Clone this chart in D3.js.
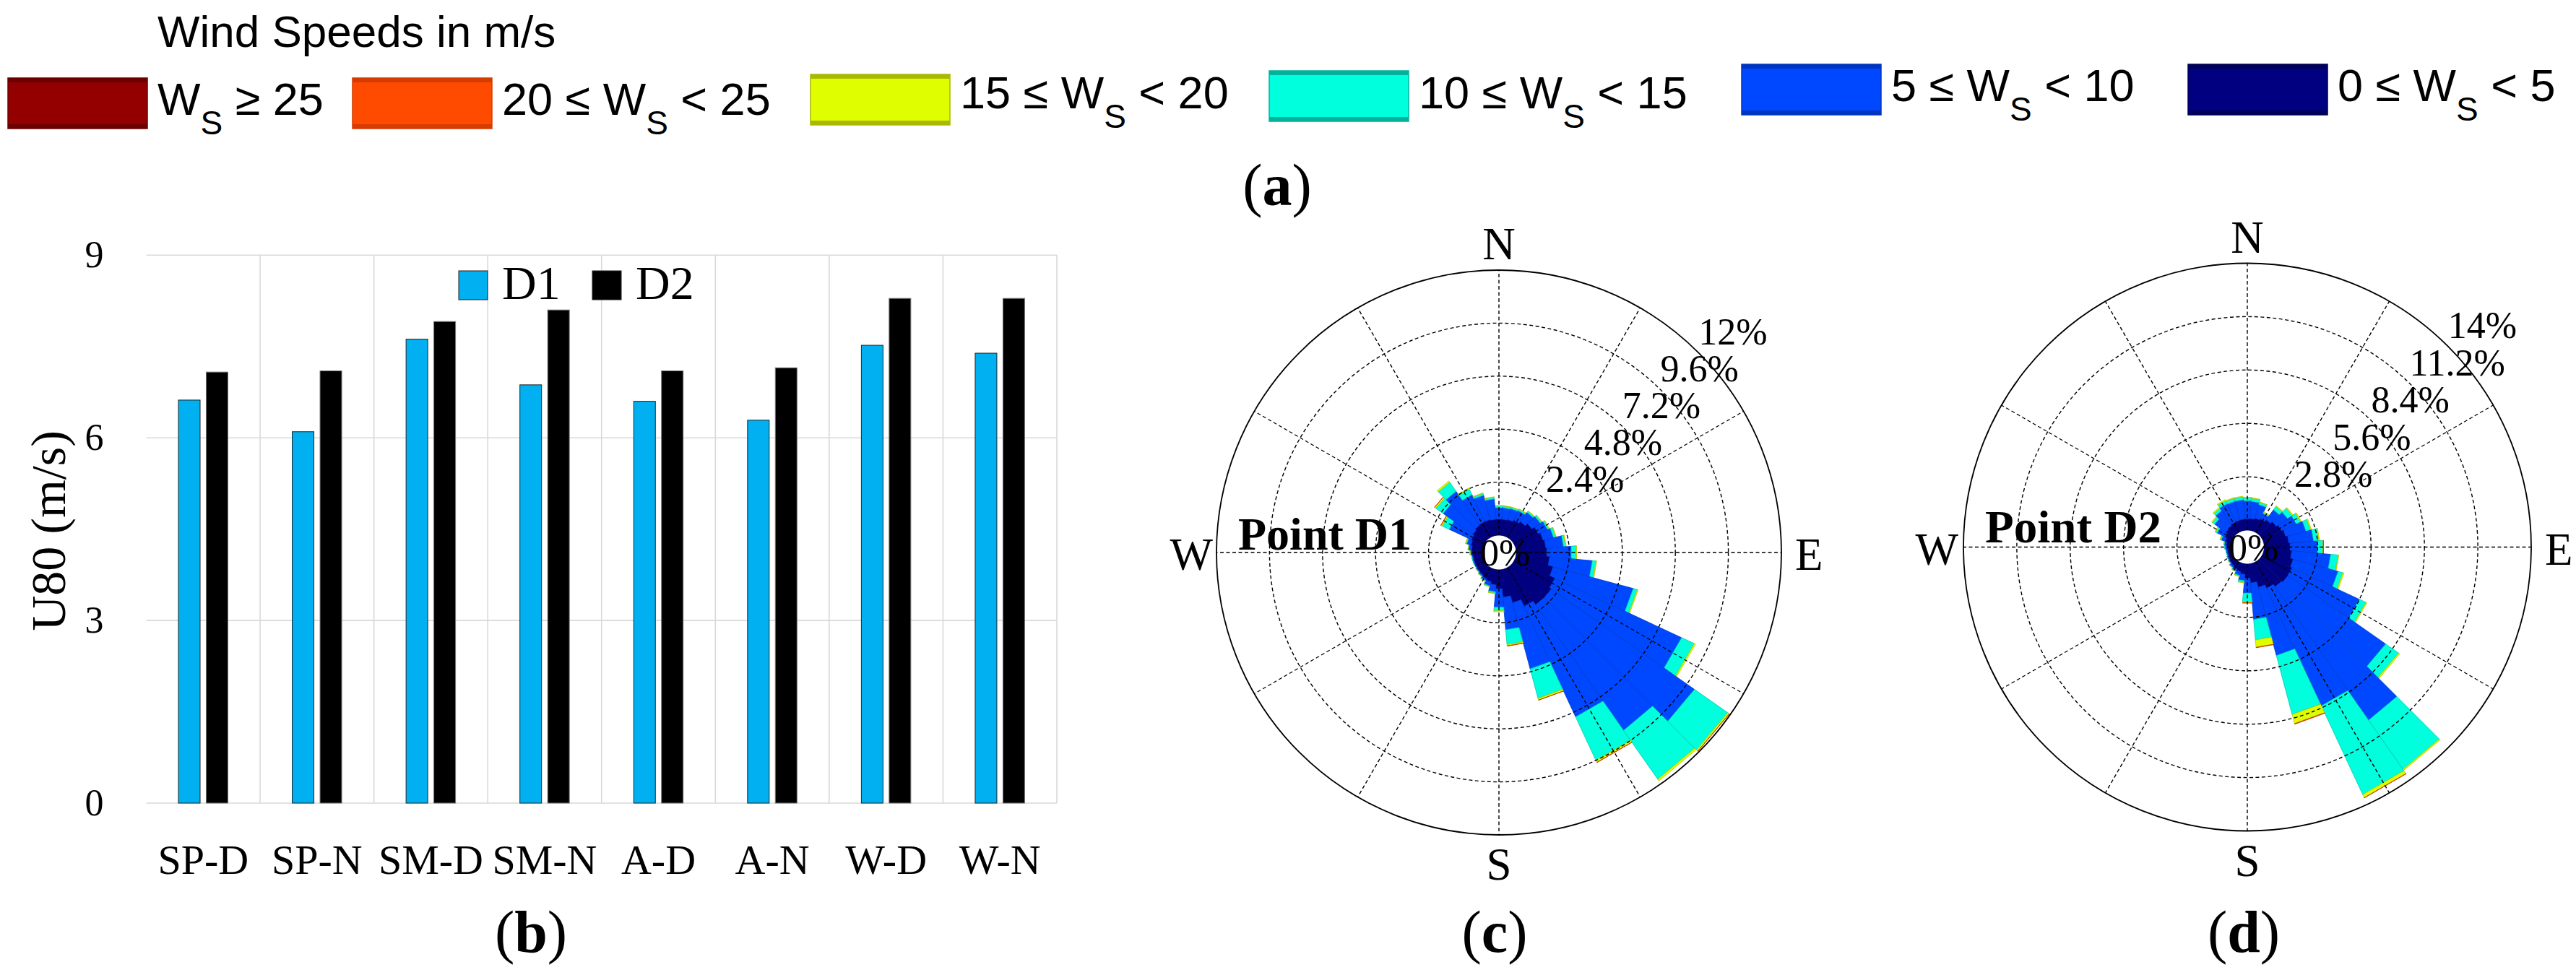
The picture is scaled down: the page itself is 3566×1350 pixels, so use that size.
<!DOCTYPE html>
<html lang="en">
<head>
<meta charset="UTF-8">
<title>Wind speeds at points D1 and D2</title>
<script src="https://cdn.jsdelivr.net/npm/d3@7"></script>
<style>
  body { margin: 0; background: #fff; }
  svg text { font-family: "Liberation Serif", "Times New Roman", serif; fill: #000; }
  svg text.sans { font-family: "Liberation Sans", Arial, sans-serif; }
</style>
</head>
<body>
<script>
// ---- data ----
// (b) mean wind speed at 80 m, by season and day/night
var seasons = ["SP-D", "SP-N", "SM-D", "SM-N", "A-D", "A-N", "W-D", "W-N"];
var u80_D1 = [6.62, 6.10, 7.62, 6.87, 6.60, 6.29, 7.52, 7.39];
var u80_D2 = [7.08, 7.10, 7.91, 8.10, 7.10, 7.15, 8.29, 8.29];
var u80Ticks = [0, 3, 6, 9];

// wind speed classes (m/s), legend order
var classLo = [25, 20, 15, 10, 5, 0];
var classHi = [null, 25, 20, 15, 10, 5];
var classColor = ["#940000", "#ff4b00", "#dfff00", "#00ffdd", "#0048ff", "#000080"];
var classBand = ["#6a0000", "#d63b00", "#a9b800", "#00b39c", "#0034c0", "#000058"];

// wind rose sectors: direction (deg from N) and frequency (%) per class
var directions = d3.range(0, 360, 10);

// (c) Point D1
var d1_0to5   = [0.73,0.73,0.76,0.83,0.92,1.06,1.19,1.29,1.35,1.39,1.52,1.75,2.01,2.11,2.11,1.91,1.58,1.25,0.86,0.69,0.59,0.53,0.46,0.43,0.40,0.40,0.40,0.43,0.46,0.53,0.59,0.66,0.73,0.76,0.76,0.73];
var d1_5to10  = [0.52,0.52,0.51,0.47,0.51,0.46,0.46,0.49,0.80,1.11,1.94,3.76,6.33,7.91,6.94,5.52,3.09,1.48,0.84,0.31,0.19,0.09,0.07,0.05,0.05,0.05,0.05,0.08,0.14,0.19,1.11,1.64,1.87,1.34,1.14,0.92];
var d1_10to15 = [0.08,0.08,0.07,0.07,0.07,0.08,0.07,0.11,0.10,0.22,0.17,0.19,0.63,1.84,2.70,2.17,1.38,0.67,0.16,0.07,0.04,0.03,0.02,0.01,0.01,0.01,0.01,0.01,0.02,0.05,0.35,0.40,0.50,0.30,0.09,0.08];
var d1_15to20 = [0.02,0.02,0.01,0.02,0.02,0.02,0.03,0.02,0.03,0.02,0.03,0.04,0.06,0.08,0.09,0.10,0.08,0.06,0.05,0.02,0.01,0.01,0.01,0.01,0,0,0,0.01,0.01,0.02,0.06,0.07,0.07,0.04,0.02,0.02];
var d1_20to25 = [0,0,0,0,0,0,0,0,0,0,0,0,0,0.01,0,0.01,0.01,0.01,0,0,0,0,0,0,0,0,0,0,0,0,0.01,0.01,0,0,0,0];
var d1_25up   = [0,0,0,0,0,0,0,0,0,0,0,0,0,0,0,0,0,0,0,0,0,0,0,0,0,0,0,0,0,0,0,0,0,0,0,0];
var d1RingTicks = [2.4, 4.8, 7.2, 9.6, 12];

// (d) Point D2
var d2_0to5   = [0.60,0.62,0.68,0.75,0.85,0.98,1.10,1.20,1.30,1.36,1.45,1.60,1.70,1.72,1.65,1.50,1.30,1.00,0.75,0.55,0.45,0.38,0.32,0.27,0.22,0.18,0.17,0.18,0.22,0.30,0.40,0.48,0.52,0.57,0.58,0.59];
var d2_5to10  = [0.95,0.90,0.74,0.30,0.65,0.72,0.85,1.10,1.30,1.44,2.05,2.44,3.90,6.25,8.55,6.80,3.70,1.92,0.78,0.33,0.20,0.12,0.10,0.06,0.06,0.06,0.07,0.10,0.11,0.22,0.45,0.72,0.93,1.05,1.02,1.01];
var d2_10to15 = [0.15,0.16,0.13,0.07,0.22,0.30,0.25,0.25,0.28,0.28,0.40,0.26,0.38,0.83,3.15,5.13,3.20,1.08,0.45,0.10,0.05,0.03,0.02,0.01,0.01,0.01,0.01,0.02,0.02,0.06,0.10,0.15,0.15,0.18,0.16,0.15];
var d2_15to20 = [0.03,0.03,0.02,0.03,0.04,0.05,0.05,0.05,0.04,0.03,0.03,0.06,0.05,0.07,0.06,0.19,0.50,0.39,0.06,0.02,0.02,0.01,0.01,0.01,0,0,0,0,0.01,0.02,0.04,0.05,0.06,0.06,0.04,0.04];
var d2_20to25 = [0,0,0,0,0,0,0,0,0,0.01,0,0,0,0,0,0.01,0.03,0.02,0.02,0,0,0,0,0,0,0,0,0,0,0,0,0,0,0,0,0];
var d2_25up   = [0,0,0,0,0,0,0,0,0,0,0,0,0,0,0,0,0,0,0,0,0,0,0,0,0,0,0,0,0,0,0,0,0,0,0,0];
var d2RingTicks = [2.8, 5.6, 8.4, 11.2, 14];

// ---- svg ----
var W = 3566, H = 1350;
var svg = d3.select("body").append("svg")
  .attr("width", W)
  .attr("height", H);

svg.append("rect").attr("width", W).attr("height", H).attr("fill", "#fff");

// panel label like "(b)" with a bold letter
function panelLabel(x, y, letter) {
  var t = svg.append("text")
    .attr("x", x).attr("y", y)
    .attr("text-anchor", "middle")
    .style("font-size", "82px");
  t.append("tspan").text("(");
  t.append("tspan").style("font-weight", "bold").text(letter);
  t.append("tspan").text(")");
}

// ---- (a) legend ----
svg.append("text")
  .attr("class", "sans")
  .attr("x", 218).attr("y", 65)
  .style("font-size", "62px")
  .text("Wind Speeds in m/s");

var legendX = [11, 488, 1122, 1757, 2411, 3029];
var legendY = [108, 108, 103, 98, 89, 89];
var legendTextY = [159, 159, 150, 150, 140, 140];

classLo.forEach(function(lo, i) {
  var g = svg.append("g").attr("transform", "translate(" + legendX[i] + "," + legendY[i] + ")");
  g.append("rect").attr("width", 193).attr("height", 70)
    .attr("fill", classColor[i]).attr("stroke", classBand[i]).attr("stroke-width", 1.5);
  g.append("rect").attr("width", 193).attr("height", 6).attr("fill", classBand[i]);
  g.append("rect").attr("y", 64).attr("width", 193).attr("height", 6).attr("fill", classBand[i]);

  var t = svg.append("text")
    .attr("class", "sans")
    .attr("x", legendX[i] + 207).attr("y", legendTextY[i])
    .style("font-size", "63px");
  var hi = classHi[i];
  t.append("tspan").text(hi == null ? "W" : lo + " \u2264 W");
  t.append("tspan").attr("dy", 27).style("font-size", "46px").text("S");
  t.append("tspan").attr("dy", -27).text(hi == null ? " \u2265 " + lo : " < " + hi);
});

panelLabel(1768, 284, "a");

// ---- (b) bar chart ----
var plotL = 202.5, plotR = 1463, plotT = 353.3, plotB = 1112;

var x0 = d3.scaleBand().domain(seasons).range([plotL, plotR]);
var bw = x0.bandwidth();
var x1 = d3.scaleBand().domain(["D1", "D2"]).range([0.2825 * bw, 0.717 * bw]).paddingInner(0.22);
var y = d3.scaleLinear().domain([0, 9]).range([plotB, plotT]);

var bars = svg.append("g");

// grid
bars.selectAll("line.h")
  .data(u80Ticks)
  .enter().append("line")
  .attr("x1", plotL).attr("x2", plotR)
  .attr("y1", function(d) { return y(d); })
  .attr("y2", function(d) { return y(d); })
  .attr("stroke", "#d9d9d9").attr("stroke-width", 1.6);

bars.selectAll("line.v")
  .data(seasons)
  .enter().append("line")
  .attr("x1", function(d) { return x0(d) + bw; })
  .attr("x2", function(d) { return x0(d) + bw; })
  .attr("y1", y(9)).attr("y2", y(0))
  .attr("stroke", "#d9d9d9").attr("stroke-width", 1.6);

var barData = seasons.map(function(s, i) {
  return [{ s: s, k: "D1", v: u80_D1[i] }, { s: s, k: "D2", v: u80_D2[i] }];
});

bars.selectAll("g.cat")
  .data(barData)
  .enter().append("g")
  .attr("transform", function(d) { return "translate(" + x0(d[0].s) + ",0)"; })
  .selectAll("rect")
  .data(function(d) { return d; })
  .enter().append("rect")
  .attr("x", function(d) { return x1(d.k); })
  .attr("width", x1.bandwidth())
  .attr("y", function(d) { return y(d.v); })
  .attr("height", function(d) { return y(0) - y(d.v); })
  .attr("fill", function(d) { return d.k == "D1" ? "#00b0f0" : "#000"; })
  .attr("stroke", function(d) { return d.k == "D1" ? "#222" : "#777"; })
  .attr("stroke-width", 1);

var yAxis = d3.axisLeft(y).tickValues(u80Ticks).tickSize(0).tickPadding(59);
var ya = bars.append("g").attr("transform", "translate(" + plotL + ",0)").call(yAxis);
ya.select(".domain").remove();
ya.selectAll("text").style("font-size", "52px").attr("font-family", null);

var xAxis = d3.axisBottom(x0).tickSize(0).tickPadding(57);
var xa = bars.append("g").attr("transform", "translate(0," + plotB + ")").call(xAxis);
xa.select(".domain").remove();
xa.selectAll("text").style("font-size", "58px").attr("font-family", null);

bars.append("text")
  .attr("transform", "translate(90,735) rotate(-90)")
  .attr("text-anchor", "middle")
  .style("font-size", "68px")
  .text("U80 (m/s)");

// legend inside the plot
[["D1", "#00b0f0", 635, 695], ["D2", "#000", 820, 880]].forEach(function(l) {
  bars.append("rect").attr("x", l[2]).attr("y", 375).attr("width", 40).attr("height", 40)
    .attr("fill", l[1]).attr("stroke", "#222").attr("stroke-width", 1);
  bars.append("text").attr("x", l[3]).attr("y", 414).style("font-size", "66px").text(l[0]);
});

panelLabel(735, 1318, "b");

// ---- (c), (d) wind roses ----
function drawRose(cx, cy, r0, R, ticks, classes, name, wGap, wDy, nameLen) {
  var g = svg.append("g");
  var maxV = ticks[ticks.length - 1];
  var r = d3.scaleLinear().domain([0, maxV]).range([r0, R]);
  var pt = function(rad, deg) {
    var a = deg * Math.PI / 180;
    return [cx + rad * Math.sin(a), cy - rad * Math.cos(a)];
  };
  // class order from calm to strong
  var order = [5, 4, 3, 2, 1, 0];
  var line = d3.line().curve(d3.curveLinearClosed);

  directions.forEach(function(dir, i) {
    var cum = 0;
    order.forEach(function(ci, k) {
      var v = classes[k][i];
      if (!v) return;
      var a0 = dir - 5, a1 = dir + 5;
      var rIn = r(cum), rOut = r(cum + v);
      cum += v;
      g.append("path")
        .attr("d", line([pt(rIn, a0), pt(rOut, a0), pt(rOut, a1), pt(rIn, a1)]))
        .attr("fill", classColor[ci])
        .attr("stroke", d3.color(classColor[ci]).darker(0.7))
        .attr("stroke-width", 0.8)
        .attr("stroke-linejoin", "round");
    });
  });

  // grid on top
  ticks.slice(0, -1).forEach(function(t) {
    g.append("circle").attr("cx", cx).attr("cy", cy).attr("r", r(t))
      .attr("fill", "none").attr("stroke", "#000").attr("stroke-width", 1.4)
      .attr("stroke-dasharray", "5,3.5");
  });
  d3.range(0, 360, 30).forEach(function(a) {
    var p0 = pt(r0, a), p1 = pt(R, a);
    g.append("line").attr("x1", p0[0]).attr("y1", p0[1]).attr("x2", p1[0]).attr("y2", p1[1])
      .attr("stroke", "#000").attr("stroke-width", 1.4).attr("stroke-dasharray", "5,3.5");
  });
  g.append("circle").attr("cx", cx).attr("cy", cy).attr("r", R)
    .attr("fill", "none").attr("stroke", "#000").attr("stroke-width", 1.8);
  g.append("circle").attr("cx", cx).attr("cy", cy).attr("r", r0 - 1).attr("fill", "#fff");

  // ring labels along 46 deg
  ticks.forEach(function(t) {
    var p = pt(r(t), 46);
    g.append("text").attr("x", p[0] - 5).attr("y", p[1] - 16)
      .style("font-size", "52px")
      .text(d3.format("~g")(t) + "%");
  });
  g.append("text").attr("x", cx - 26).attr("y", cy + 18).style("font-size", "52px").text("0%");

  // compass
  g.append("text").attr("x", cx).attr("y", cy - R - 15).attr("text-anchor", "middle").style("font-size", "63px").text("N");
  g.append("text").attr("x", cx).attr("y", cy + R + 62).attr("text-anchor", "middle").style("font-size", "63px").text("S");
  g.append("text").attr("x", cx - R - wGap).attr("y", cy + 24).attr("text-anchor", "end").style("font-size", "63px").text("W");
  g.append("text").attr("x", cx + R + 19).attr("y", cy + 24).style("font-size", "63px").text("E");

  g.append("text").attr("x", cx - R + 30).attr("y", cy + wDy)
    .attr("textLength", nameLen).attr("lengthAdjust", "spacingAndGlyphs")
    .style("font-size", "64px").style("font-weight", "bold").text(name);
}

drawRose(2075, 765, 24, 391, d1RingTicks,
  [d1_0to5, d1_5to10, d1_10to15, d1_15to20, d1_20to25, d1_25up], "Point D1", 5, -4, 240);
panelLabel(2069, 1318, "c");

drawRose(3111, 757.5, 23.5, 393, d2RingTicks,
  [d2_0to5, d2_5to10, d2_10to15, d2_15to20, d2_20to25, d2_25up], "Point D2", 7, -7, 244);
panelLabel(3106, 1318, "d");
</script>
</body>
</html>
